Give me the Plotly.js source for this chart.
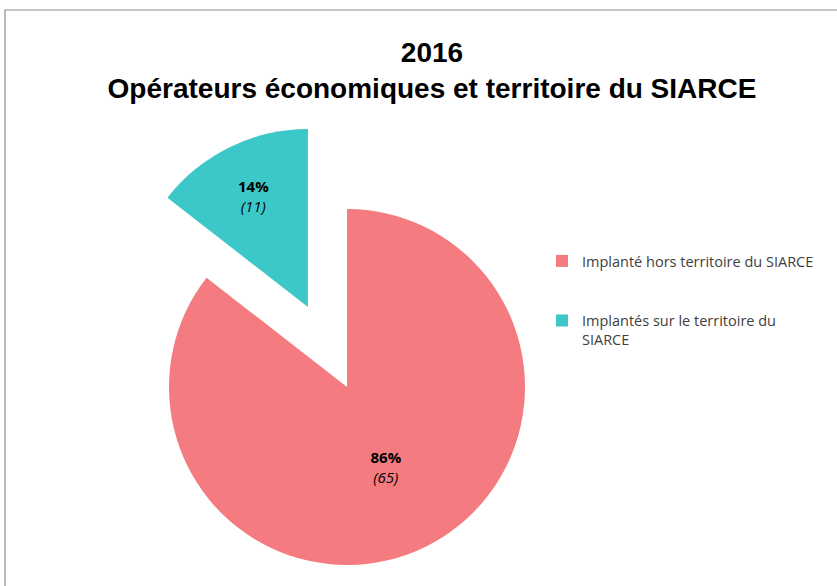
<!DOCTYPE html>
<html>
<head>
<meta charset="utf-8">
<script src="https://cdn.plot.ly/plotly-3.0.1.min.js"></script>
<style>
html,body{margin:0;padding:0;overflow:hidden;background:#fff;}
#chart{width:837px;height:660px;}
</style>
</head>
<body>
<div id="chart"></div>
<script>
const categories = ["Implanté hors territoire du SIARCE", "Implantés sur le territoire du<br>SIARCE"];
const counts = [65, 11];
const sliceColors = ["#F47B7F", "#3CC8C8"];
const pulls = [0, 0.5];
const titleLines = ["2016", "Opérateurs économiques et territoire du SIARCE"];

const H = 660, W = 837;
const legendLabels = [categories[0] + "<br> <br> ", categories[1]];

const trace = {
  type: "pie",
  labels: legendLabels,
  values: counts,
  sort: false,
  direction: "clockwise",
  rotation: 0,
  pull: pulls,
  marker: {colors: sliceColors, line: {width: 0}},
  texttemplate: "<b>%{percent:.0%}</b><br><i>(%{value})</i>",
  textposition: "inside",
  insidetextorientation: "horizontal",
  textfont: {family: "Open Sans, sans-serif", size: 15, color: "#000"},
  hoverinfo: "label+value+percent",
  domain: {x: [80 / W, 614 / W], y: [1 - 654 / H, 1 - 120 / H]}
};

const layout = {
  width: W, height: H,
  margin: {l: 0, r: 0, t: 0, b: 0},
  paper_bgcolor: "#ffffff",
  title: {
    text: "<b>" + titleLines.join("<br>") + "</b>",
    x: 432 / W, xanchor: "center", xref: "paper",
    y: 1 - 62 / H, yanchor: "top", yref: "paper",
    font: {family: "Liberation Sans, Arial, sans-serif", size: 28, color: "#000"}
  },
  showlegend: true,
  legend: {
    x: 542 / W, xanchor: "left",
    y: 1 - 245 / H, yanchor: "top",
    valign: "top",
    font: {family: "Open Sans, sans-serif", size: 14.5, color: "#404040"},
    bgcolor: "rgba(0,0,0,0)"
  },
  shapes: [{
    type: "rect", xref: "paper", yref: "paper",
    x0: 5 / W, x1: 1.01, y0: -0.01, y1: 1 - 10 / H,
    line: {color: "#8c8c8c", width: 1.2}, fillcolor: "rgba(0,0,0,0)", layer: "below"
  }]
};

Plotly.newPlot("chart", [trace], layout, {displayModeBar: false, staticPlot: true});
</script>
</body>
</html>
